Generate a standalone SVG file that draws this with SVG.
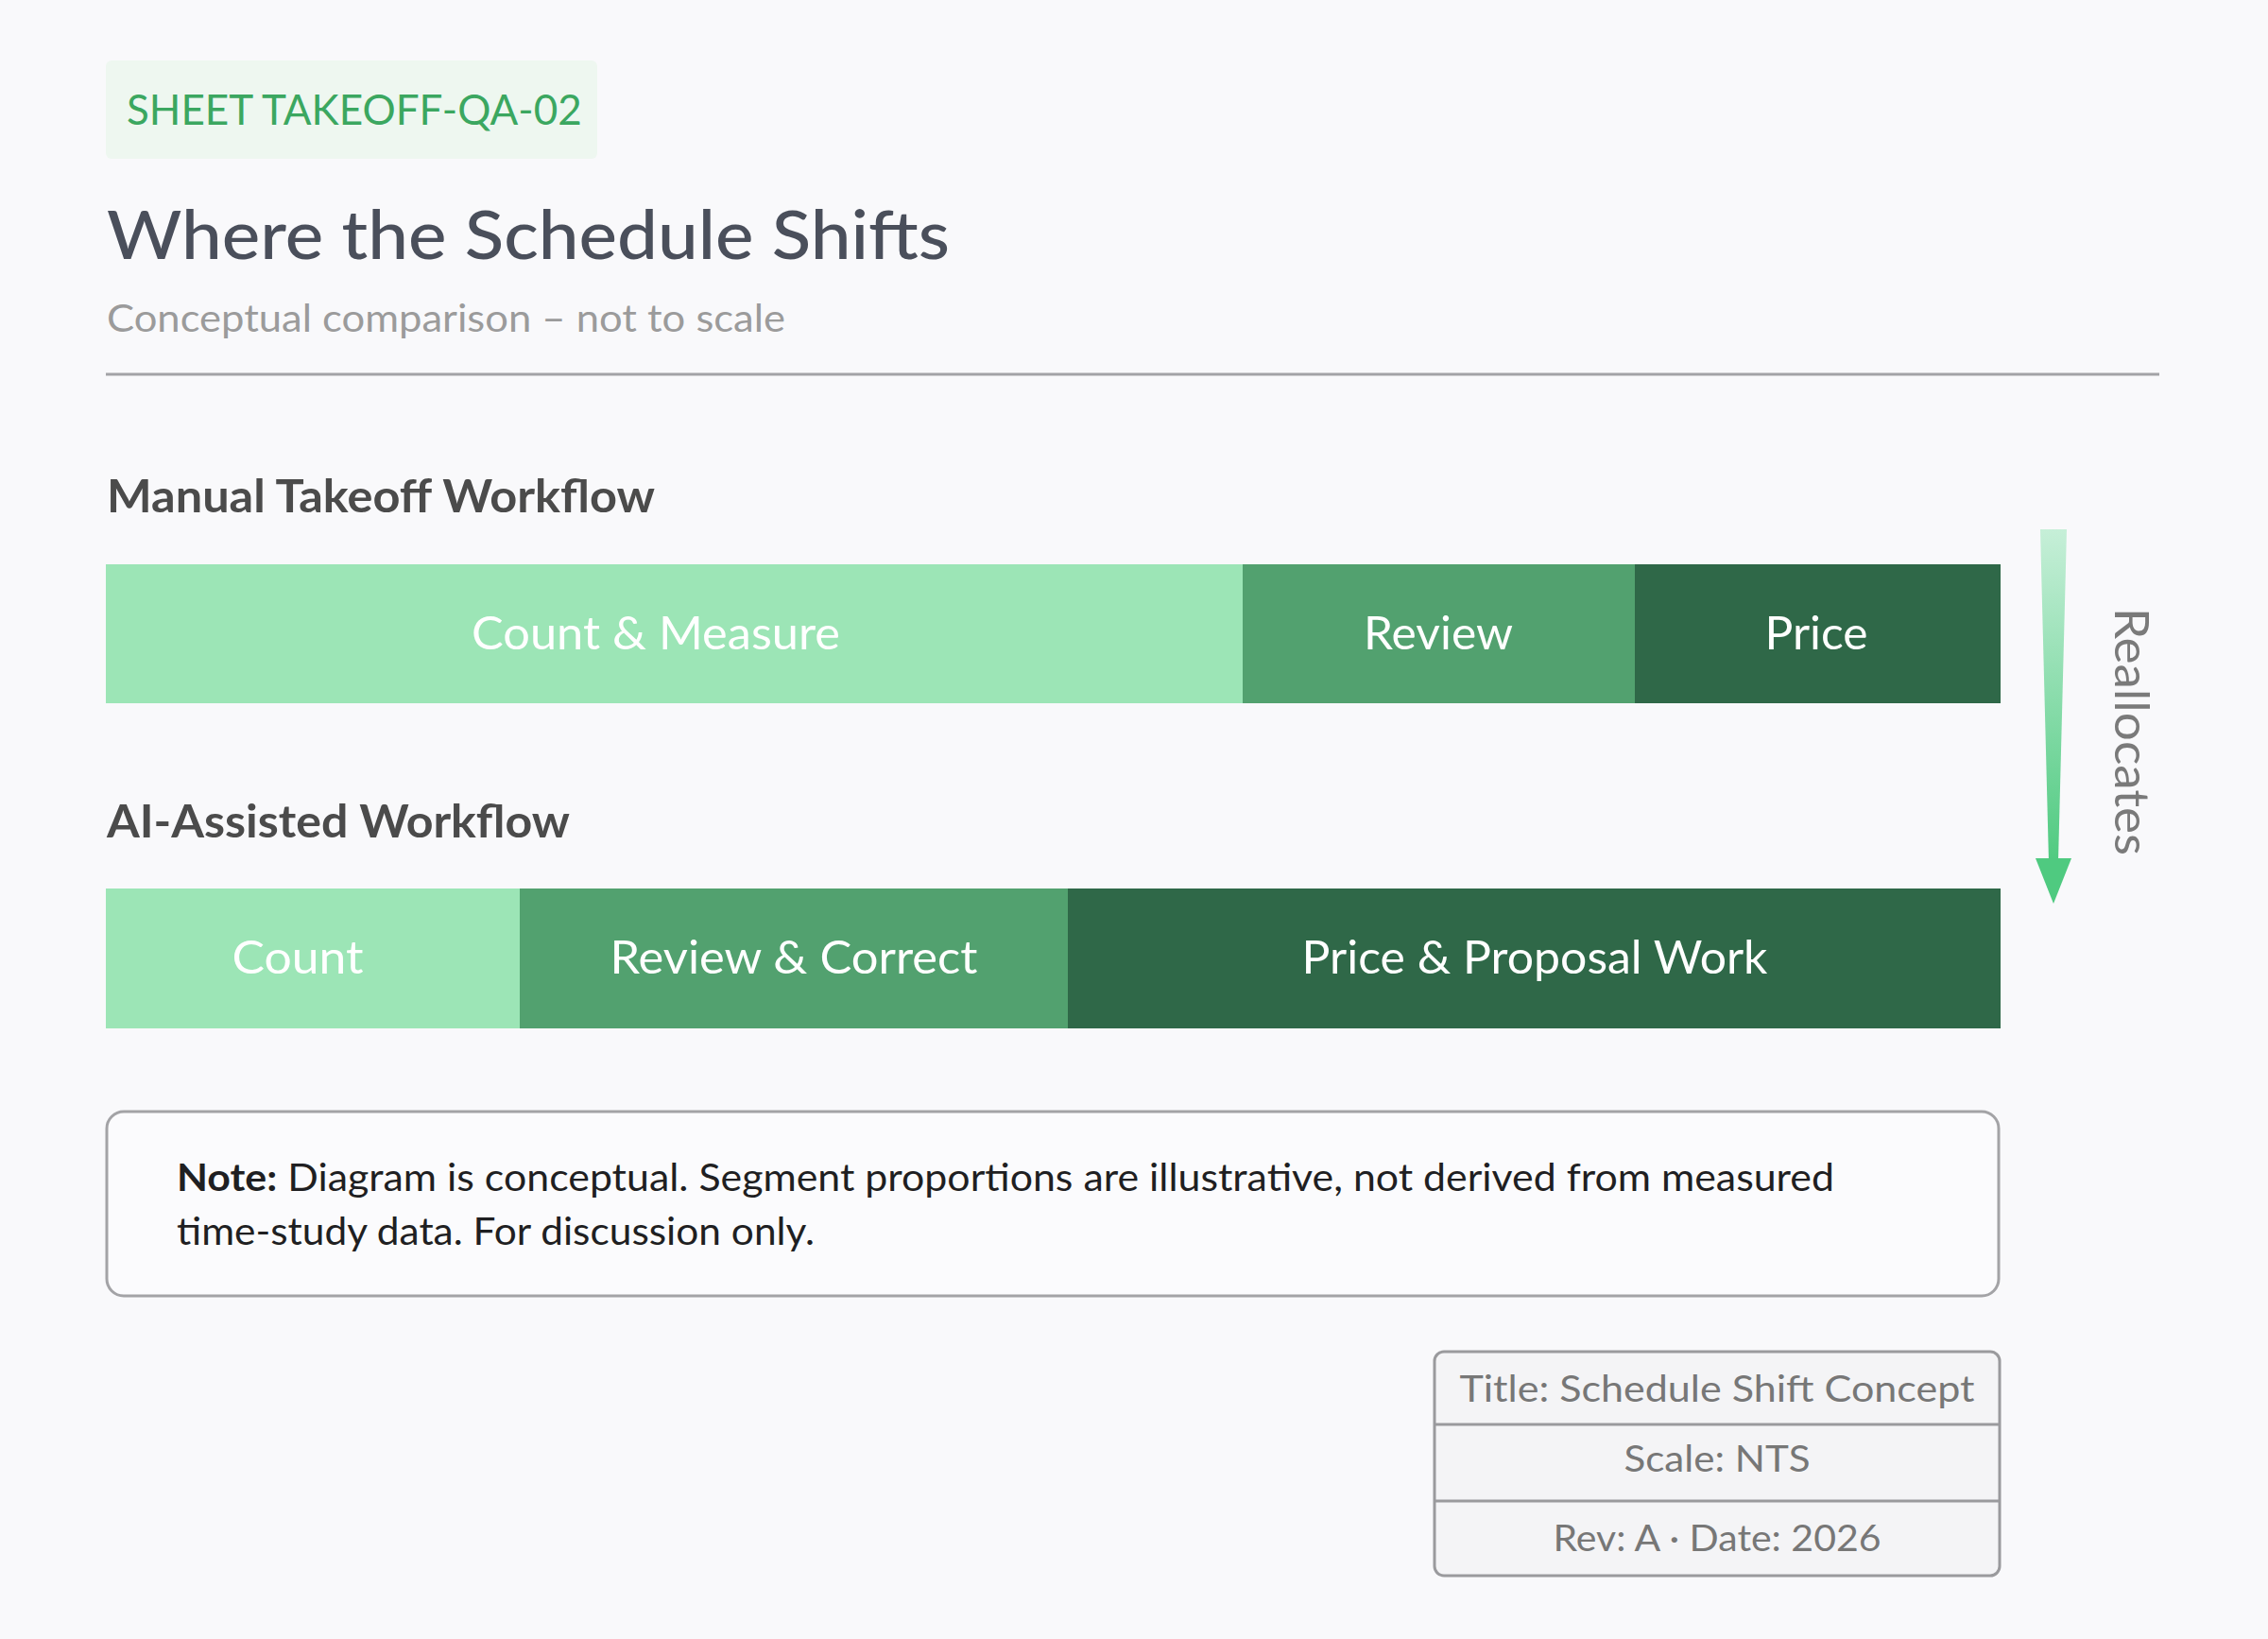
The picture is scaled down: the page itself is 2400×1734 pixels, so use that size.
<svg xmlns="http://www.w3.org/2000/svg" width="2400" height="1734" viewBox="0 0 2400 1734">
<defs>
<style>
text{font-family:Lato,"Liberation Sans",sans-serif}
.seg{fill:#ffffff;font-size:48px;text-anchor:middle}
.hd{fill:#4b4b4b;font-size:47px;font-weight:700}
.tb{fill:#777777;font-size:39px;text-anchor:middle}
.lt{fill:#9ce5b6}.md{fill:#52a16f}.dk{fill:#2f6848}
</style>
<linearGradient id="ag" x1="0" y1="0" x2="0" y2="1">
<stop offset="0" stop-color="#c6efd8"/>
<stop offset="1" stop-color="#4fca80"/>
</linearGradient>
</defs>
<rect width="2400" height="1734" fill="#f9f9fb"/>

<g id="header">
<rect x="112" y="64" width="520" height="104" rx="6" fill="#eef7f0"/>
<text x="134" y="132" font-size="44" fill="#3ba760">SHEET TAKEOFF-QA-02</text>
<text x="113" y="274" font-size="72" font-weight="500" fill="#4a4f5b" textLength="892" lengthAdjust="spacingAndGlyphs">Where the Schedule Shifts</text>
<text x="113" y="351" font-size="40" fill="#9b9b9b" textLength="718" lengthAdjust="spacingAndGlyphs">Conceptual comparison – not to scale</text>
<line x1="112" y1="396" x2="2285" y2="396" stroke="#a3a3a6" stroke-width="3"/>
</g>

<g id="manual">
<text class="hd" x="113" y="542" textLength="580" lengthAdjust="spacingAndGlyphs">Manual Takeoff Workflow</text>
<g id="m-count"><rect class="lt" x="112" y="597" width="1203" height="147"/><text class="seg" x="694" y="687" textLength="390" lengthAdjust="spacingAndGlyphs">Count &amp; Measure</text></g>
<g id="m-review"><rect class="md" x="1315" y="597" width="415" height="147"/><text class="seg" x="1522" y="687" textLength="158" lengthAdjust="spacingAndGlyphs">Review</text></g>
<g id="m-price"><rect class="dk" x="1730" y="597" width="387" height="147"/><text class="seg" x="1922" y="687" textLength="109" lengthAdjust="spacingAndGlyphs">Price</text></g>
</g>

<g id="ai">
<text class="hd" x="113" y="886" textLength="490" lengthAdjust="spacingAndGlyphs">AI-Assisted Workflow</text>
<g id="a-count"><rect class="lt" x="112" y="940" width="438" height="148"/><text class="seg" x="315" y="1030" textLength="139" lengthAdjust="spacingAndGlyphs">Count</text></g>
<g id="a-review"><rect class="md" x="550" y="940" width="580" height="148"/><text class="seg" x="840" y="1030" textLength="389" lengthAdjust="spacingAndGlyphs">Review &amp; Correct</text></g>
<g id="a-price"><rect class="dk" x="1130" y="940" width="987" height="148"/><text class="seg" x="1624" y="1030" textLength="493" lengthAdjust="spacingAndGlyphs">Price &amp; Proposal Work</text></g>
</g>

<g id="connectors">
<path d="M2159 560 L2187 560 L2178 912 L2168 912 Z" fill="url(#ag)"/>
<path d="M2154 908 L2192 908 L2173 956 Z" fill="#4fca80"/>
<text transform="translate(2238,774) rotate(90)" font-size="50" fill="#7a7a7a" text-anchor="middle" textLength="262" lengthAdjust="spacingAndGlyphs">Reallocates</text>
</g>

<g id="note">
<rect x="113" y="1176" width="2002" height="195" rx="18" fill="#fbfbfd" stroke="#a3a3a6" stroke-width="3"/>
<text x="187" y="1260" font-size="40" fill="#1f1f22" textLength="1754" lengthAdjust="spacingAndGlyphs"><tspan font-weight="700">Note:</tspan> Diagram is conceptual. Segment proportions are illustrative, not derived from measured</text>
<text x="187" y="1317" font-size="40" fill="#1f1f22" textLength="675" lengthAdjust="spacingAndGlyphs">time-study data. For discussion only.</text>
</g>

<g id="titleblock">
<rect x="1518" y="1430" width="598" height="237" rx="10" fill="#f4f4f6" stroke="#9a9a9d" stroke-width="3"/>
<line x1="1518" y1="1507" x2="2116" y2="1507" stroke="#9a9a9d" stroke-width="3"/>
<line x1="1518" y1="1588" x2="2116" y2="1588" stroke="#9a9a9d" stroke-width="3"/>
<text class="tb" x="1817" y="1483" textLength="545" lengthAdjust="spacingAndGlyphs">Title: Schedule Shift Concept</text>
<text class="tb" x="1817" y="1557" textLength="197" lengthAdjust="spacingAndGlyphs">Scale: NTS</text>
<text class="tb" x="1817" y="1641" textLength="347" lengthAdjust="spacingAndGlyphs">Rev: A · Date: 2026</text>
</g>
</svg>
